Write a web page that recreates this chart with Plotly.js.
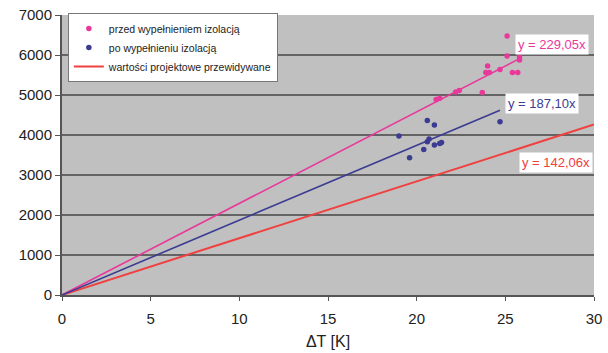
<!DOCTYPE html>
<html>
<head>
<meta charset="utf-8">
<script src="https://cdn.plot.ly/plotly-3.0.1.min.js"></script>
<style>html,body{margin:0;padding:0;background:#fff;}#chart{width:608px;height:353px;}</style>
</head>
<body>
<div id="chart"></div>
<script>
// Data
const seriesNames = ["przed wypełnieniem izolacją", "po wypełnieniu izolacją", "wartości projektowe przewidywane"];
const beforeX = [25.1, 25.1, 25.8, 25.8, 24.0, 23.9, 24.1, 24.7, 25.4, 25.7, 23.7, 22.4, 22.2, 21.3, 21.1];
const beforeY = [6475, 5975, 5875, 5950, 5725, 5560, 5560, 5640, 5560, 5560, 5060, 5110, 5075, 4920, 4890];
const afterX = [20.6, 21.0, 19.0, 24.7, 20.6, 20.4, 19.6, 21.0, 21.3, 21.4, 20.7];
const afterY = [4360, 4250, 3975, 4330, 3830, 3640, 3430, 3750, 3790, 3810, 3900];
const slopes = [229.05, 187.10, 142.06];
const slopeLabels = ["y = 229,05x", "y = 187,10x", "y = 142,06x"];
const lineEndX = [25.85, 24.7, 30];
const xTicks = [0, 5, 10, 15, 20, 25, 30];
const yTicks = [0, 1000, 2000, 3000, 4000, 5000, 6000, 7000];

const pink = '#e8399b', blue = '#3b3b92', red = '#f04040';

function trend(i) {
  return {x: [0, lineEndX[i]], y: [0, slopes[i] * lineEndX[i]]};
}

const traces = [
  {x: beforeX, y: beforeY, mode: 'markers', type: 'scatter', name: seriesNames[0],
   marker: {color: pink, size: 5.5}},
  {x: afterX, y: afterY, mode: 'markers', type: 'scatter', name: seriesNames[1],
   marker: {color: blue, size: 5.5}},
  Object.assign({mode: 'lines', type: 'scatter', name: seriesNames[2],
   line: {color: red, width: 2}}, trend(2)),
  Object.assign({mode: 'lines', type: 'scatter', showlegend: false,
   line: {color: pink, width: 1.6}}, trend(0)),
  Object.assign({mode: 'lines', type: 'scatter', showlegend: false,
   line: {color: blue, width: 1.6}}, trend(1))
];

const labelPos = [[27.64, 6275], [27.07, 4800], [27.86, 3325]];
const labelColors = [pink, blue, red];
const annotations = slopeLabels.map((t, i) => ({
  x: labelPos[i][0], y: labelPos[i][1], xref: 'x', yref: 'y', text: t,
  showarrow: false, bgcolor: '#ffffff', font: {color: labelColors[i], size: 13, family: 'Liberation Sans, Arial, sans-serif'},
  borderpad: 2
}));

const layout = {
  width: 608, height: 353,
  margin: {l: 62, r: 14, t: 15, b: 58},
  paper_bgcolor: '#ffffff', plot_bgcolor: '#c0c0c0',
  font: {family: 'Liberation Sans, Arial, sans-serif', color: '#222', size: 15},
  xaxis: {range: [0, 30], tickvals: xTicks, showgrid: false, zeroline: false,
    showline: true, linecolor: '#555', linewidth: 2, ticks: 'outside', ticklen: 4, tickcolor: '#555',
    ticklabelstandoff: 5,
    title: {text: 'ΔT [K]', font: {size: 16}, standoff: 10}},
  yaxis: {range: [0, 7000], tickvals: yTicks, showgrid: true, gridcolor: '#646464', gridwidth: 2,
    zeroline: false, showline: true, linecolor: '#555', linewidth: 2, ticks: 'outside', ticklen: 5, tickcolor: '#555'},
  showlegend: true,
  legend: {x: 0.011, y: 1.007, xanchor: 'left', yanchor: 'top', bgcolor: '#ffffff',
    bordercolor: '#777', borderwidth: 1, font: {size: 10.5, color: '#222'}, tracegroupgap: 0, itemwidth: 30},
  annotations: annotations
};

Plotly.newPlot('chart', traces, layout, {displayModeBar: false, staticPlot: true});
</script>
</body>
</html>
